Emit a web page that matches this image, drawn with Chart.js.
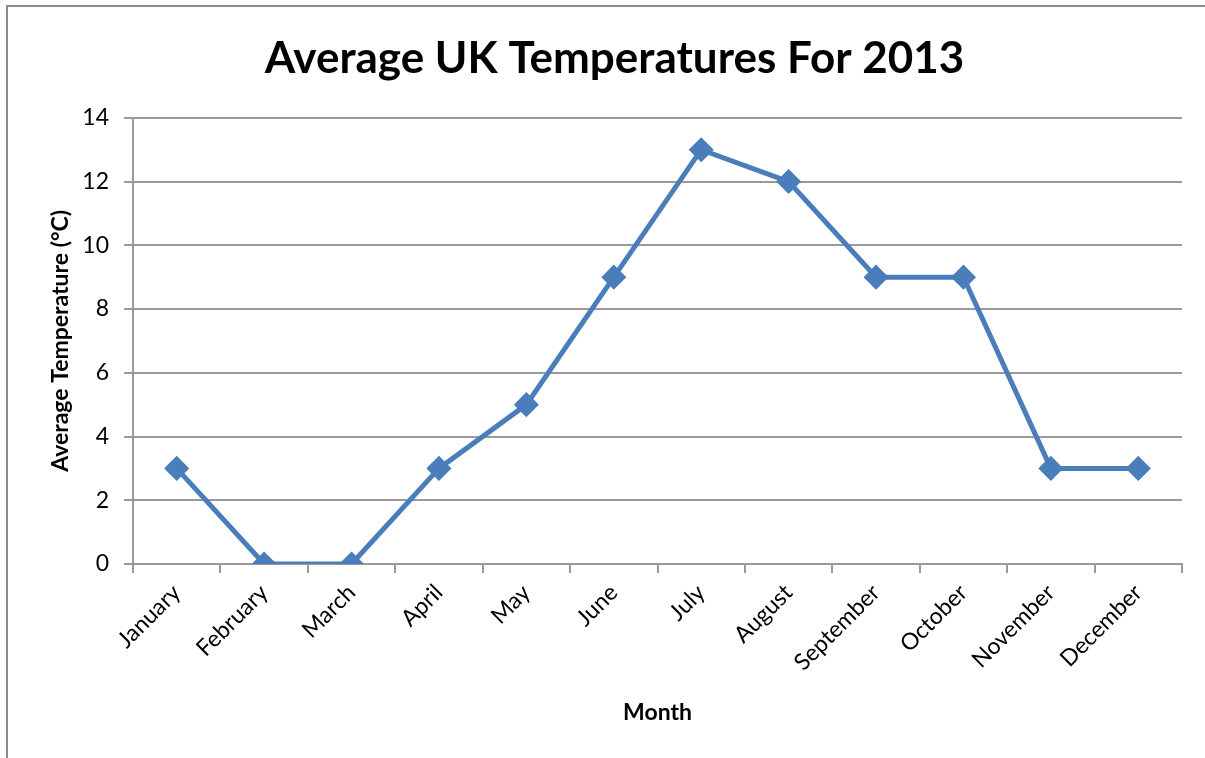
<!DOCTYPE html>
<html>
<head>
<meta charset="utf-8">
<script src="https://cdn.jsdelivr.net/npm/chart.js@4"></script>
<style>
    body { margin: 0; background: #fff; overflow: hidden; }
    #frame {
        position: absolute; left: 6px; top: 5px; width: 1300px; height: 900px;
        border-left: 2px solid #8c8c8c; border-top: 2px solid #8c8c8c;
    }
    #wrap { position: absolute; left: 0; top: 0; width: 1205px; height: 758px; }
</style>
</head>
<body>
<div id="frame"></div>
<div id="wrap"><canvas id="tempChart" width="1205" height="758"></canvas></div>
<script>
// chart data
const months = ["January", "February", "March", "April", "May", "June",
    "July", "August", "September", "October", "November", "December"];
const avgTemps = [3, 0, 0, 3, 5, 9, 13, 12, 9, 9, 3, 3];
const yTicks = [0, 2, 4, 6, 8, 10, 12, 14];

const fontName = "Lato, 'Open Sans', sans-serif";
const gridGray = "#9a9a9a";

document.addEventListener("DOMContentLoaded", function () {
    const ctx = document.getElementById("tempChart").getContext("2d");

    new Chart(ctx, {
        type: "line",
        data: {
            labels: months,
            datasets: [{
                label: "Average Temperature",
                data: avgTemps,
                borderColor: "#4a7ebb",
                backgroundColor: "#4a7ebb",
                borderWidth: 5,
                tension: 0,
                pointStyle: "rectRot",
                pointRadius: 9,
                pointHoverRadius: 9,
            }],
        },
        options: {
            responsive: false,
            animation: false,
            layout: { padding: { left: 47, right: 23, top: 0, bottom: 32 } },
            plugins: {
                legend: { display: false },
                tooltip: { enabled: false },
                title: {
                    display: true,
                    text: "Average UK Temperatures For 2013",
                    color: "#000",
                    font: { family: fontName, size: 44, weight: "bold", lineHeight: 1.2 },
                    padding: { top: 32, bottom: 33 },
                },
            },
            scales: {
                x: {
                    offset: true,
                    afterFit: (s) => { s.height = 162; },
                    grid: {
                        offset: true,
                        drawOnChartArea: false,
                        tickLength: 9,
                        color: gridGray,
                        lineWidth: 2,
                    },
                    border: { color: gridGray, width: 2 },
                    ticks: {
                        minRotation: 45,
                        maxRotation: 45,
                        padding: 6,
                        color: "#000",
                        font: { family: fontName, size: 23 },
                    },
                    title: {
                        display: true,
                        text: "Month",
                        color: "#000",
                        font: { family: fontName, size: 23, weight: "bold" },
                        padding: 0,
                    },
                },
                y: {
                    min: 0,
                    max: 14,
                    afterFit: (s) => { s.width = 86; },
                    afterBuildTicks: (s) => { s.ticks = yTicks.map((v) => ({ value: v })); },
                    grid: { tickLength: 9, color: gridGray, lineWidth: 2 },
                    border: { color: gridGray, width: 2 },
                    ticks: {
                        padding: 15,
                        color: "#000",
                        font: { family: fontName, size: 23 },
                    },
                    title: {
                        display: true,
                        text: "Average Temperature (°C)",
                        color: "#000",
                        font: { family: fontName, size: 23, weight: "bold" },
                        padding: 0,
                    },
                },
            },
        },
    });
});
</script>
</body>
</html>
